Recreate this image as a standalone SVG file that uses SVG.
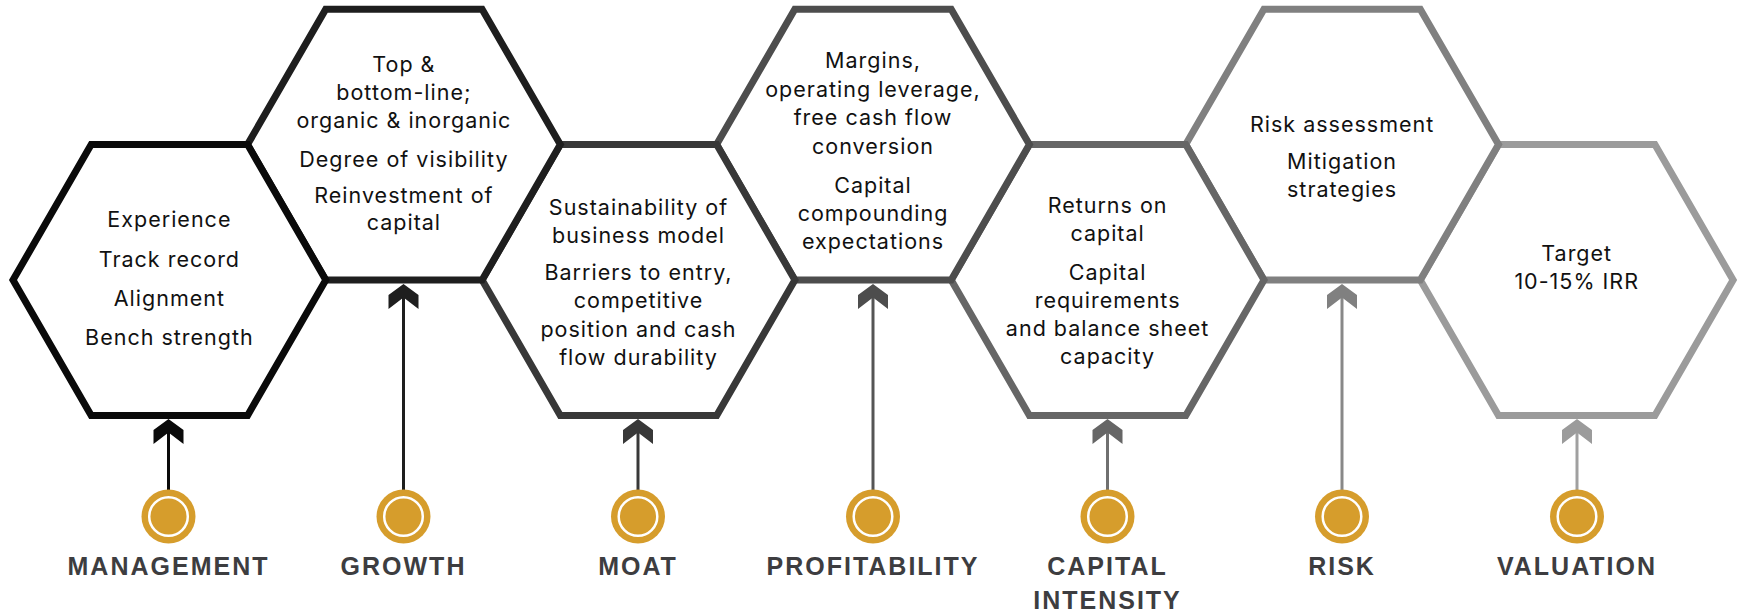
<svg xmlns="http://www.w3.org/2000/svg" xmlns:xlink="http://www.w3.org/1999/xlink" width="1739" height="613" viewBox="0 0 1739 613">
  <style>
    .hex { fill: #ffffff; stroke-width: 7; stroke-linejoin: miter; }
    .body { font-family: Inter, "Liberation Sans", sans-serif; font-size: 21.5px; letter-spacing: 1px; fill: #111111; text-anchor: middle; }
    .label { font-family: "Liberation Sans", Arial, sans-serif; font-weight: bold; font-size: 25px; fill: #3d3d40; text-anchor: middle; letter-spacing: 2px; }
    .stem { stroke-width: 3; fill: none; }
    .dot-outer { fill: #d69d2c; }
    .dot-inner { fill: #d69d2c; stroke: #ffffff; stroke-width: 2.5; }
  </style>
  <defs>
    <!-- flat-topped hexagon, R = 156.4, centred on the origin -->
    <polygon id="hex" points="-156.4,0 -78.2,-135.4 78.2,-135.4 156.4,0 78.2,135.4 -78.2,135.4"/>
    <!-- notched chevron arrowhead, tip at the origin -->
    <path id="chev" d="M0,0 L15,11 L15,25 L0,13.5 L-15,25 L-15,11 Z"/>
    <g id="dot">
      <circle class="dot-outer" r="27"/>
      <circle class="dot-inner" r="19.3"/>
    </g>
  </defs>

  <!-- honeycomb, lightest drawn first so darker shared edges sit on top -->
  <g id="node-valuation">
    <use xlink:href="#hex" class="hex" stroke="#9b9b9b" transform="translate(1576.7,280)"/>
    <text class="body" x="1576.7" y="261">Target</text>
    <text class="body" x="1576.7" y="289">10-15% IRR</text>
  </g>
  <g id="node-risk">
    <use xlink:href="#hex" class="hex" stroke="#808080" transform="translate(1342.1,144.6)"/>
    <text class="body" x="1342.1" y="132">Risk assessment</text>
    <text class="body" x="1342.1" y="169">Mitigation</text>
    <text class="body" x="1342.1" y="197">strategies</text>
  </g>
  <g id="node-capital-intensity">
    <use xlink:href="#hex" class="hex" stroke="#666666" transform="translate(1107.6,280)"/>
    <text class="body" x="1107.6" y="213">Returns on</text>
    <text class="body" x="1107.6" y="241">capital</text>
    <text class="body" x="1107.6" y="280">Capital</text>
    <text class="body" x="1107.6" y="308">requirements</text>
    <text class="body" x="1107.6" y="336">and balance sheet</text>
    <text class="body" x="1107.6" y="364">capacity</text>
  </g>
  <g id="node-profitability">
    <use xlink:href="#hex" class="hex" stroke="#4d4d4d" transform="translate(873,144.6)"/>
    <text class="body" x="873" y="68">Margins,</text>
    <text class="body" x="873" y="96.5">operating leverage,</text>
    <text class="body" x="873" y="125">free cash flow</text>
    <text class="body" x="873" y="153.5">conversion</text>
    <text class="body" x="873" y="193">Capital</text>
    <text class="body" x="873" y="221">compounding</text>
    <text class="body" x="873" y="249">expectations</text>
  </g>
  <g id="node-moat">
    <use xlink:href="#hex" class="hex" stroke="#383838" transform="translate(638.5,280)"/>
    <text class="body" x="638.5" y="215">Sustainability of</text>
    <text class="body" x="638.5" y="243">business model</text>
    <text class="body" x="638.5" y="280">Barriers to entry,</text>
    <text class="body" x="638.5" y="308">competitive</text>
    <text class="body" x="638.5" y="337">position and cash</text>
    <text class="body" x="638.5" y="365">flow durability</text>
  </g>
  <g id="node-growth">
    <use xlink:href="#hex" class="hex" stroke="#1e1e1e" transform="translate(403.9,144.6)"/>
    <text class="body" x="403.9" y="72">Top &amp;</text>
    <text class="body" x="403.9" y="100">bottom-line;</text>
    <text class="body" x="403.9" y="128">organic &amp; inorganic</text>
    <text class="body" x="403.9" y="167">Degree of visibility</text>
    <text class="body" x="403.9" y="203">Reinvestment of</text>
    <text class="body" x="403.9" y="230">capital</text>
  </g>
  <g id="node-management">
    <use xlink:href="#hex" class="hex" stroke="#0a0a0a" transform="translate(169.4,280)"/>
    <text class="body" x="169.4" y="227">Experience</text>
    <text class="body" x="169.4" y="267">Track record</text>
    <text class="body" x="169.4" y="306">Alignment</text>
    <text class="body" x="169.4" y="345">Bench strength</text>
  </g>

  <!-- connectors: stem from each marker dot up into its hexagon -->
  <g id="connectors">
    <g stroke="#0a0a0a" fill="#0a0a0a">
      <line class="stem" x1="168.5" y1="431" x2="168.5" y2="490"/>
      <use xlink:href="#chev" transform="translate(168.5,419)" stroke="none"/>
    </g>
    <g stroke="#1e1e1e" fill="#1e1e1e">
      <line class="stem" x1="403.5" y1="295" x2="403.5" y2="490"/>
      <use xlink:href="#chev" transform="translate(403.5,284)" stroke="none"/>
    </g>
    <g stroke="#383838" fill="#383838">
      <line class="stem" x1="638" y1="431" x2="638" y2="490"/>
      <use xlink:href="#chev" transform="translate(638,419)" stroke="none"/>
    </g>
    <g stroke="#555555" fill="#4d4d4d">
      <line class="stem" x1="873" y1="295" x2="873" y2="490"/>
      <use xlink:href="#chev" transform="translate(873,284)" stroke="none"/>
    </g>
    <g stroke="#707070" fill="#666666">
      <line class="stem" x1="1107.5" y1="431" x2="1107.5" y2="490"/>
      <use xlink:href="#chev" transform="translate(1107.5,419)" stroke="none"/>
    </g>
    <g stroke="#888888" fill="#808080">
      <line class="stem" x1="1342" y1="295" x2="1342" y2="490"/>
      <use xlink:href="#chev" transform="translate(1342,284)" stroke="none"/>
    </g>
    <g stroke="#a0a0a0" fill="#9b9b9b">
      <line class="stem" x1="1577" y1="431" x2="1577" y2="490"/>
      <use xlink:href="#chev" transform="translate(1577,419)" stroke="none"/>
    </g>
  </g>

  <!-- marker dots and category labels -->
  <g id="label-management">
    <use xlink:href="#dot" x="168.5" y="516.5"/>
    <text class="label" x="168.5" y="575">MANAGEMENT</text>
  </g>
  <g id="label-growth">
    <use xlink:href="#dot" x="403.5" y="516.5"/>
    <text class="label" x="403.5" y="575">GROWTH</text>
  </g>
  <g id="label-moat">
    <use xlink:href="#dot" x="638" y="516.5"/>
    <text class="label" x="638" y="575">MOAT</text>
  </g>
  <g id="label-profitability">
    <use xlink:href="#dot" x="873" y="516.5"/>
    <text class="label" x="873" y="575">PROFITABILITY</text>
  </g>
  <g id="label-capital-intensity">
    <use xlink:href="#dot" x="1107.5" y="516.5"/>
    <text class="label" x="1107.5" y="575">CAPITAL</text>
    <text class="label" x="1107.5" y="609">INTENSITY</text>
  </g>
  <g id="label-risk">
    <use xlink:href="#dot" x="1342" y="516.5"/>
    <text class="label" x="1342" y="575">RISK</text>
  </g>
  <g id="label-valuation">
    <use xlink:href="#dot" x="1577" y="516.5"/>
    <text class="label" x="1577" y="575">VALUATION</text>
  </g>
</svg>
